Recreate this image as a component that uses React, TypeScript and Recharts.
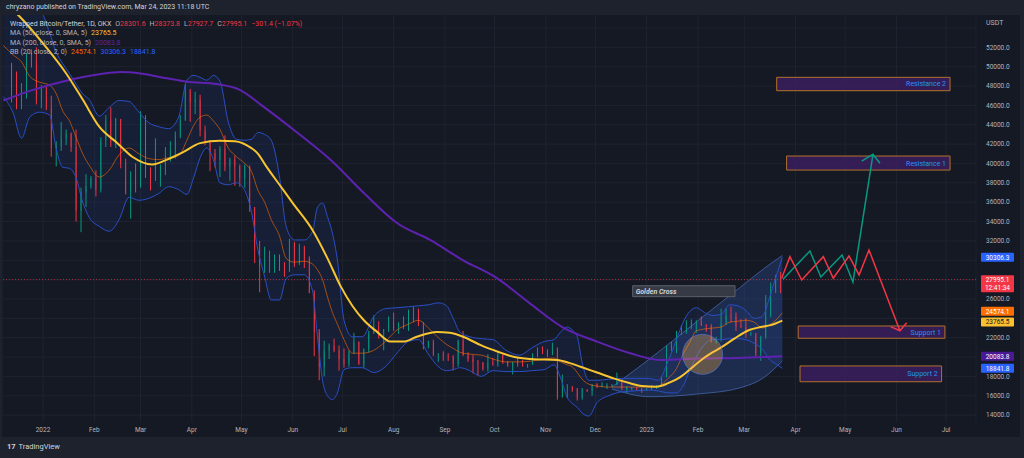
import React from 'react';
import {
  ComposedChart, Bar, Line, Area, XAxis, YAxis, CartesianGrid,
  ReferenceLine, ReferenceArea, ReferenceDot
} from 'recharts';

// WBTC/USDT, grouped into 3-day candles (Dec 12 2021 .. Mar 24 2023), values in thousand USDT
const firstOpen = 49.4;
const firstDay = -19; // centre day of the first candle, day 0 = Jan 1 2022
const closes = [
  48.4, 46.2, 46.9, 50.8, 50.6, 46.5, 47.7, 45.8, 41.6, 41.8,
  42.6, 43.1, 41.7, 35.1, 37.0, 37.7, 38.5, 37.3, 42.4, 44.4,
  42.2, 44.6, 40.0, 37.0, 38.3, 37.7, 44.0, 39.4, 38.7, 38.7,
  39.7, 40.9, 41.3, 42.9, 44.5, 47.5, 46.3, 46.6, 43.4, 42.2,
  41.1, 40.4, 41.5, 39.7, 40.4, 39.7, 38.5, 39.7, 35.5, 31.0,
  29.3, 29.9, 30.3, 30.3, 29.6, 29.0, 31.8, 29.7, 31.4, 30.1,
  26.6, 22.6, 19.0, 20.7, 21.2, 20.7, 19.8, 19.3, 20.5, 21.6,
  19.3, 20.8, 22.4, 23.2, 22.6, 22.9, 23.6, 23.0, 23.3, 23.8,
  23.9, 24.3, 23.3, 21.1, 21.5, 20.3, 20.3, 20.1, 20.0, 19.3,
  21.7, 20.2, 19.8, 19.5, 19.4, 18.8, 19.4, 19.3, 20.3, 19.5,
  19.1, 19.4, 19.3, 19.1, 19.2, 20.1, 20.6, 20.5, 20.2, 20.9,
  15.9, 16.8, 16.9, 16.7, 15.8, 16.6, 16.5, 17.2, 16.9, 17.1,
  17.1, 17.2, 17.4, 16.8, 16.8, 16.8, 16.7, 16.6, 16.7, 16.8,
  17.1, 17.9, 20.9, 21.1, 22.7, 22.9, 23.0, 23.7, 23.7, 23.3,
  23.2, 21.6, 21.8, 23.5, 24.3, 24.2, 23.2, 23.1, 22.4, 22.4,
  20.4, 22.1, 24.3, 26.9, 28.2, 28.0,
];
const highs = [
  50.4, 49.5, 48.3, 51.4, 51.8, 52.0, 48.1, 47.9, 47.0, 42.3,
  44.3, 43.5, 43.2, 43.5, 37.5, 38.9, 38.7, 39.3, 42.7, 45.0,
  45.8, 44.7, 44.6, 40.5, 39.2, 40.0, 45.4, 45.0, 39.6, 42.6,
  39.9, 41.7, 42.3, 43.3, 45.0, 48.2, 47.7, 47.4, 47.1, 43.9,
  42.4, 41.5, 41.8, 42.9, 40.6, 40.8, 39.9, 39.9, 39.8, 35.5,
  32.0, 31.4, 31.0, 30.6, 30.6, 29.8, 32.2, 31.9, 31.7, 31.5,
  30.4, 26.9, 22.9, 21.7, 21.4, 21.9, 21.2, 20.9, 20.7, 22.5,
  21.6, 20.9, 22.7, 24.3, 23.7, 22.9, 24.2, 24.6, 23.6, 24.2,
  24.9, 25.2, 25.0, 23.6, 21.7, 21.8, 20.4, 20.6, 20.4, 20.2,
  21.8, 22.7, 20.5, 20.2, 19.7, 19.5, 20.3, 19.9, 20.4, 20.4,
  19.6, 19.5, 19.9, 19.7, 19.3, 20.4, 21.0, 21.1, 20.8, 21.5,
  21.0, 18.2, 17.2, 17.0, 16.8, 16.8, 16.7, 17.2, 17.3, 17.4,
  17.3, 17.2, 18.4, 17.5, 17.0, 16.9, 16.9, 16.8, 16.8, 17.1,
  17.1, 18.0, 21.2, 21.6, 22.7, 23.3, 23.8, 23.9, 23.8, 24.2,
  23.4, 23.4, 22.1, 25.0, 25.0, 25.2, 24.6, 23.9, 24.0, 22.6,
  22.5, 22.2, 26.4, 27.7, 28.5, 28.8,
];
const lows = [
  46.3, 45.6, 45.6, 46.7, 49.9, 46.1, 45.7, 45.5, 40.7, 39.7,
  41.3, 41.9, 41.2, 34.0, 32.9, 35.5, 37.4, 36.6, 37.0, 41.7,
  41.7, 41.6, 39.5, 36.8, 34.3, 37.0, 37.5, 38.5, 37.2, 38.2,
  37.6, 38.8, 40.2, 40.5, 42.6, 44.4, 44.3, 45.1, 42.8, 41.9,
  39.2, 39.6, 38.6, 39.2, 38.2, 37.7, 37.6, 37.5, 35.0, 29.7,
  26.7, 28.7, 28.7, 28.7, 28.9, 28.3, 28.8, 29.3, 29.5, 29.2,
  26.6, 20.1, 17.6, 18.0, 19.8, 20.5, 18.6, 18.9, 19.0, 20.3,
  19.2, 18.9, 20.5, 22.4, 21.9, 20.7, 22.6, 22.7, 22.4, 22.9,
  22.7, 23.6, 23.2, 20.8, 20.9, 20.1, 19.5, 19.6, 19.6, 18.6,
  19.0, 20.1, 19.5, 18.3, 18.1, 18.6, 18.5, 19.1, 19.0, 19.3,
  19.0, 18.2, 19.0, 19.0, 18.9, 19.2, 20.0, 20.3, 20.0, 20.2,
  15.6, 15.8, 15.8, 16.4, 15.5, 15.6, 16.4, 16.0, 16.8, 16.9,
  16.7, 16.9, 17.1, 16.6, 16.3, 16.6, 16.6, 16.3, 16.5, 16.6,
  16.7, 17.1, 17.9, 20.6, 20.4, 22.3, 22.4, 22.9, 22.5, 23.2,
  22.6, 21.5, 21.4, 21.6, 23.3, 23.6, 22.7, 23.0, 22.0, 22.2,
  20.1, 19.6, 21.9, 24.1, 26.6, 26.6,
];

// Bollinger Bands (20, 2)
const bbDays = [-24, -18, -13, -8, -2, 4, 8, 12, 16, 20, 24, 28, 34, 40, 46, 52, 58, 64, 70, 76, 82, 87, 91, 95, 99, 103, 107, 112, 117, 122, 126, 130, 134, 138, 143, 147, 152, 158, 163, 166, 169, 172, 175, 178, 182, 187, 193, 200, 207, 214, 221, 227, 233, 239, 244, 248, 252, 258, 265, 272, 280, 288, 296, 303, 309, 313, 317, 320, 323, 326, 330, 335, 342, 350, 358, 366, 372, 378, 383, 387, 391, 395, 400, 405, 410, 415, 420, 425, 430, 435, 439, 443, 447];
const bbUpper = [58.0, 57.5, 57.0, 56.5, 56.0, 53.5, 51.5, 50.3, 49.3, 48.2, 47.2, 46.6, 44.9, 45.8, 46.5, 46.4, 45.3, 44.2, 43.8, 43.6, 44.8, 48.6, 49.1, 48.9, 48.6, 49.1, 48.5, 44.3, 42.5, 42.4, 42.5, 43.2, 43.0, 42.4, 38.6, 33.5, 32.1, 32.1, 33.0, 35.5, 35.9, 34.5, 32.8, 30.0, 23.8, 22.1, 22.1, 24.2, 25.0, 25.1, 25.2, 25.3, 25.4, 25.6, 25.3, 24.0, 22.6, 22.1, 21.9, 21.8, 20.7, 20.2, 21.0, 21.6, 21.8, 22.6, 23.1, 22.8, 22.1, 19.4, 17.6, 17.6, 17.7, 17.8, 17.8, 17.8, 17.6, 19.6, 21.8, 23.6, 24.7, 25.1, 24.6, 24.3, 24.4, 25.4, 25.3, 24.8, 24.0, 24.2, 26.0, 28.2, 30.3];
const bbBasis = [52.2, 51.2, 50.5, 49.0, 48.4, 48.1, 47.2, 45.4, 44.4, 42.7, 41.0, 39.8, 38.6, 39.3, 40.9, 41.6, 41.0, 40.5, 40.4, 40.6, 40.8, 42.4, 43.9, 44.8, 45.0, 44.4, 43.5, 41.6, 40.7, 40.0, 39.2, 37.2, 36.0, 34.2, 32.5, 30.2, 29.8, 29.9, 29.6, 29.0, 28.0, 26.2, 24.6, 23.4, 21.8, 20.4, 20.4, 20.7, 21.6, 22.8, 23.4, 23.8, 23.0, 22.0, 21.3, 20.9, 20.5, 20.3, 20.2, 19.8, 19.5, 19.5, 19.6, 19.8, 19.9, 19.5, 19.2, 19.0, 18.4, 17.7, 17.2, 17.0, 16.9, 16.9, 16.9, 16.9, 17.0, 17.8, 18.8, 20.3, 21.5, 22.7, 22.9, 23.0, 23.1, 23.6, 23.7, 23.8, 23.6, 23.0, 23.3, 23.8, 24.57];
const bbLower = [46.9, 45.2, 42.6, 44.8, 45.3, 45.0, 41.5, 39.6, 39.5, 38.5, 36.0, 34.4, 33.5, 33.0, 34.2, 36.5, 36.2, 36.4, 36.9, 37.6, 37.3, 36.8, 38.5, 40.6, 41.6, 40.4, 38.0, 37.8, 38.0, 37.2, 35.0, 31.0, 28.3, 25.9, 25.9, 28.1, 28.5, 28.5, 26.8, 22.0, 17.6, 16.0, 15.6, 16.3, 18.7, 18.9, 18.9, 18.4, 19.0, 20.4, 21.6, 21.8, 20.3, 19.0, 18.6, 18.7, 18.9, 18.6, 18.0, 18.6, 18.5, 18.5, 18.6, 18.7, 19.2, 17.8, 15.8, 15.2, 14.8, 14.2, 13.9, 15.3, 16.0, 16.4, 16.5, 16.6, 16.5, 16.3, 16.3, 17.0, 18.6, 20.0, 21.3, 21.8, 21.8, 21.9, 21.9, 21.8, 21.4, 20.8, 19.8, 19.3, 18.84];

// Moving averages
const ma50Days = [-24, -12, 0, 14, 24, 34, 45, 54, 66, 75, 85, 95, 107, 116, 123, 130, 135, 143, 151, 163, 172, 180, 187, 194, 202, 210, 218, 226, 238, 246, 254, 265, 275, 285, 295, 311, 318, 325, 335, 345, 355, 362, 371, 378, 385, 391, 398, 405, 411, 418, 427, 434, 440, 447];
const ma50 = [56.8, 54.8, 52.4, 49.3, 46.6, 43.8, 42.1, 40.7, 39.9, 40.4, 41.2, 42.1, 42.35, 42.3, 41.9, 41.0, 39.7, 37.8, 35.9, 33.1, 30.2, 27.3, 25.3, 23.8, 22.6, 21.6, 21.6, 22.1, 22.6, 22.5, 22.1, 21.2, 20.55, 20.0, 19.8, 19.7, 19.4, 19.0, 18.4, 17.8, 17.3, 17.0, 16.94, 17.3, 17.9, 18.7, 19.7, 20.5, 21.1, 21.9, 22.8, 23.1, 23.3, 23.77];
const ma200Days = [-24, -6, 14, 35, 47, 59, 75, 87, 105, 119, 133, 154, 174, 194, 214, 234, 254, 274, 294, 314, 335, 355, 373, 397, 420, 447];
const ma200 = [46.5, 47.6, 48.55, 49.24, 49.45, 49.3, 48.8, 48.45, 48.2, 47.6, 45.9, 43.15, 40.36, 36.95, 33.85, 32.1, 30.0, 28.2, 25.6, 23.1, 21.6, 20.4, 19.7, 19.85, 19.9, 20.08];

// drawings
const fanDays = [344, 367, 397, 421, 436, 447];
const fanLow = [16.7, 15.9, 16.2, 16.8, 17.9, 19.6];
const fanHigh = [16.9, 19.84, 23.9, 27.13, 29.16, 30.5];
const redPathDays = [446.6, 451.6, 458.7, 471.8, 477.8, 487.3, 493.4, 499.4, 518.1];
const redPath = [28.14, 30.37, 27.96, 30.37, 28.14, 30.44, 28.48, 31.06, 22.72];
const redHeadDays = [512.5, 518.1, 522.2];
const redHead = [23.14, 22.72, 23.55];
const greenPathDays = [447.4, 463.7, 470.3, 483.1, 489.7, 501.8];
const greenPath = [28.04, 30.96, 28.27, 30.54, 27.75, 40.95];
const greenHeadDays = [495, 501.8, 506];
const greenHead = [40.25, 40.95, 40.02];

const zones = [
  { name: 'Resistance 2', x1: 443.6, x2: 548.4, y1: 47.52, y2: 48.9 },
  { name: 'Resistance 1', x1: 449.6, x2: 548.4, y1: 39.32, y2: 40.77 },
  { name: 'Support 1', x1: 456.6, x2: 545.3, y1: 21.94, y2: 23.21 },
  { name: 'Support 2', x1: 457.7, x2: 543.3, y1: 17.45, y2: 19.08 },
];

const monthDays = [0, 31, 59, 90, 120, 151, 181, 212, 243, 273, 304, 334, 365, 396, 424, 455, 485, 516, 546];
const monthLabels = ['2022', 'Feb', 'Mar', 'Apr', 'May', 'Jun', 'Jul', 'Aug', 'Sep', 'Oct', 'Nov', 'Dec', '2023', 'Feb', 'Mar', 'Apr', 'May', 'Jun', 'Jul'];
const gridPrices = [14, 16, 18, 20, 22, 24, 26, 28, 30, 32, 34, 36, 38, 40, 42, 44, 46, 48, 50, 52, 54];
// labels hidden behind the price tags are left out, as on the original
const priceTicks = [14, 16, 18, 22, 26, 32, 34, 36, 38, 40, 42, 44, 46, 48, 50, 52];

const lastPrice = 27.9951;
const tags = [
  { v: 30.3063, text: '30306.3', bg: '#2962ff', fg: '#ffffff', shift: 0 },
  { v: 24.5741, text: '24574.1', bg: '#ff6d00', fg: '#ffffff', shift: -1.5 },
  { v: 23.7655, text: '23765.5', bg: '#fbc02d', fg: '#131722', shift: 1.5 },
  { v: 20.0838, text: '20083.8', bg: '#4a1a96', fg: '#ffffff', shift: 0 },
  { v: 18.8418, text: '18841.8', bg: '#2962ff', fg: '#ffffff', shift: 0 },
];

const candles = closes.map((c, i) => {
  const o = i === 0 ? firstOpen : closes[i - 1];
  return { day: firstDay + 3 * i, o, c, h: highs[i], l: lows[i], range: [lows[i], highs[i]] };
});
const pairs = (days: number[], vals: number[]) => days.map((d, i) => ({ day: d, v: vals[i] }));
const bbData = bbDays.map((d, i) => ({ day: d, up: bbUpper[i], mid: bbBasis[i], low: bbLower[i], band: [bbLower[i], bbUpper[i]] }));
const fanData = fanDays.map((d, i) => ({ day: d, fan: [fanLow[i], fanHigh[i]] }));

const FONT = 'Roboto, "Noto Sans", sans-serif';
const UP = '#089981';
const DOWN = '#f23645';

const renderCandle = (props: any) => {
  const { x, y, width, height, payload } = props;
  if (!payload || height == null) return <g />;
  const { o, c, h, l } = payload;
  const color = c >= o ? UP : DOWN;
  const ppu = height / (h - l);
  const top = y + (h - Math.max(o, c)) * ppu;
  const bodyH = Math.max(1, Math.abs(o - c) * ppu);
  const cx = x + width / 2;
  return (
    <g>
      <line x1={cx} x2={cx} y1={y} y2={y + height} stroke={color} strokeWidth={1} />
      <rect x={x} y={top} width={width} height={bodyH} fill={color} />
    </g>
  );
};

const tagLabel = (text: string, bg: string, fg: string, shift: number, sub?: string) => (p: any) => {
  const vb = p.viewBox || {};
  const x = vb.x + vb.width + 5;
  const y = vb.y + shift;
  const h = sub ? 17 : 9;
  return (
    <g>
      <rect x={x} y={y - 4.5} width={33} height={h} rx={1} fill={bg} />
      <text x={x + 16.5} y={y} dy="0.35em" textAnchor="middle" fill={fg} fontSize={6.5} fontFamily={FONT}>{text}</text>
      {sub && <text x={x + 16.5} y={y + 8} dy="0.35em" textAnchor="middle" fill={fg} fontSize={6.5} fontFamily={FONT}>{sub}</text>}
    </g>
  );
};

const legendRow: React.CSSProperties = { position: 'absolute', left: 10, fontSize: 7, color: '#b2b5be', whiteSpace: 'nowrap', display: 'flex', gap: 4 };

export default function App() {
  return (
    <div style={{ position: 'absolute', left: 0, top: 0, width: 1024, height: 458, background: '#1e222d', overflow: 'hidden', fontFamily: FONT }}>
      <div style={{ position: 'absolute', left: 6, top: 3, fontSize: 7, color: '#d1d4dc', whiteSpace: 'nowrap' }}>
        chryzano published on TradingView.com, Mar 24, 2023 11:18 UTC
      </div>

      <div style={{ position: 'absolute', left: 2, top: 15, width: 1018, height: 422, background: '#151924' }}>
        <ComposedChart width={1018} height={422} data={candles} margin={{ top: 0, right: 0, left: 0, bottom: 0 }}>
          <CartesianGrid stroke="#1f2330" strokeWidth={1} horizontalValues={gridPrices} />
          <XAxis
            dataKey="day" type="number" domain={[-24.8, 564.1]} allowDataOverflow
            ticks={monthDays} interval={0} height={15} tickSize={0} tickMargin={5} axisLine={false}
            tickFormatter={(d: number) => monthLabels[monthDays.indexOf(d)] ?? ''}
            tick={{ fill: '#b2b5be', fontSize: 6.5, fontFamily: FONT }}
          />
          <YAxis
            type="number" orientation="right" width={44} domain={[13.29, 55.34]} allowDataOverflow
            ticks={priceTicks} interval={0} tickSize={0} tickMargin={10} axisLine={false}
            tickFormatter={(v: number) => (v * 1000).toFixed(1)}
            tick={{ fill: '#b2b5be', fontSize: 6.5, fontFamily: FONT }}
          />

          <Area data={bbData} dataKey="band" type="monotone" stroke="none" fill="#2962ff" fillOpacity={0.08} isAnimationActive={false} />
          <Line data={bbData} dataKey="up" type="monotone" stroke="#2a4fc6" strokeWidth={1} dot={false} isAnimationActive={false} />
          <Line data={bbData} dataKey="low" type="monotone" stroke="#2a4fc6" strokeWidth={1} dot={false} isAnimationActive={false} />
          <Line data={bbData} dataKey="mid" type="monotone" stroke="#ff6d00" strokeOpacity={0.6} strokeWidth={1} dot={false} isAnimationActive={false} />

          <Area data={fanData} dataKey="fan" type="monotone" stroke="#5b8def" strokeOpacity={0.5} strokeWidth={1} fill="#3d6fdc" fillOpacity={0.22} isAnimationActive={false} />

          <ReferenceLine y={lastPrice} stroke={DOWN} strokeOpacity={0.7} strokeDasharray="1 2" label={tagLabel('27995.1', DOWN, '#ffffff', 0, '12:41:34')} />

          <Bar dataKey="range" barSize={4} shape={renderCandle} isAnimationActive={false} />

          <Line data={pairs(ma200Days, ma200)} dataKey="v" type="monotone" stroke="#5e22b0" strokeWidth={2} dot={false} isAnimationActive={false} />
          <Line data={pairs(ma50Days, ma50)} dataKey="v" type="monotone" stroke="#f7c531" strokeWidth={2} dot={false} isAnimationActive={false} />

          <ReferenceDot x={398.8} y={20.28} r={20} fill="#ffb74d" fillOpacity={0.3} stroke="#5b7bd6" strokeOpacity={0.6} />

          <ReferenceArea
            x1={356.5} x2={418.4} y1={26.24} y2={27.37} fill="#363a45" fillOpacity={1} stroke="#5d606b"
            label={{ value: 'Golden Cross', position: 'insideLeft', offset: 3, fill: '#d1d4dc', fontSize: 7, fontWeight: 'bold', fontStyle: 'italic', fontFamily: FONT }}
          />
          {zones.map((z) => (
            <ReferenceArea
              key={z.name} x1={z.x1} x2={z.x2} y1={z.y1} y2={z.y2}
              fill="#3a1f5e" fillOpacity={0.85} stroke="#b4702a" strokeWidth={1}
              label={{ value: z.name, position: 'insideRight', offset: 4, fill: '#2196f3', fontSize: 7, fontFamily: FONT }}
            />
          ))}

          <Line data={pairs(greenPathDays, greenPath)} dataKey="v" type="linear" stroke={UP} strokeWidth={1.5} dot={false} isAnimationActive={false} />
          <Line data={pairs(greenHeadDays, greenHead)} dataKey="v" type="linear" stroke={UP} strokeWidth={1.5} dot={false} isAnimationActive={false} />
          <Line data={pairs(redPathDays, redPath)} dataKey="v" type="linear" stroke={DOWN} strokeWidth={1.5} dot={false} isAnimationActive={false} />
          <Line data={pairs(redHeadDays, redHead)} dataKey="v" type="linear" stroke={DOWN} strokeWidth={1.5} dot={false} isAnimationActive={false} />

          {tags.map((t) => (
            <ReferenceLine key={t.text} y={t.v} stroke="none" label={tagLabel(t.text, t.bg, t.fg, t.shift)} />
          ))}
        </ComposedChart>
      </div>

      <div style={{ position: 'absolute', left: 986, top: 19, fontSize: 7, color: '#b2b5be' }}>USDT</div>

      <div style={{ ...legendRow, top: 20, color: '#d1d4dc' }}>
        <span>Wrapped Bitcoin/Tether, 1D, OKX</span>
        <span><span style={{ color: '#b2b5be' }}>O</span><span style={{ color: DOWN }}>28301.6</span></span>
        <span><span style={{ color: '#b2b5be' }}>H</span><span style={{ color: DOWN }}>28373.8</span></span>
        <span><span style={{ color: '#b2b5be' }}>L</span><span style={{ color: DOWN }}>27927.7</span></span>
        <span><span style={{ color: '#b2b5be' }}>C</span><span style={{ color: DOWN }}>27995.1</span></span>
        <span style={{ color: DOWN }}>−301.4 (−1.07%)</span>
      </div>
      <div style={{ ...legendRow, top: 29 }}>
        <span>MA (50, close, 0, SMA, 5)</span>
        <span style={{ color: '#f7c531' }}>23765.5</span>
      </div>
      <div style={{ ...legendRow, top: 38.5 }}>
        <span>MA (200, close, 0, SMA, 5)</span>
        <span style={{ color: '#5e22b0' }}>20083.8</span>
      </div>
      <div style={{ ...legendRow, top: 48 }}>
        <span>BB (20, close, 2, 0)</span>
        <span style={{ color: '#ff6d00' }}>24574.1</span>
        <span style={{ color: '#2962ff' }}>30306.3</span>
        <span style={{ color: '#2962ff' }}>18841.8</span>
      </div>

      <div style={{ position: 'absolute', left: 7, top: 442, fontSize: 7.5, color: '#d1d4dc', whiteSpace: 'nowrap' }}>
        <b style={{ marginRight: 3 }}>17</b>TradingView
      </div>
    </div>
  );
}
